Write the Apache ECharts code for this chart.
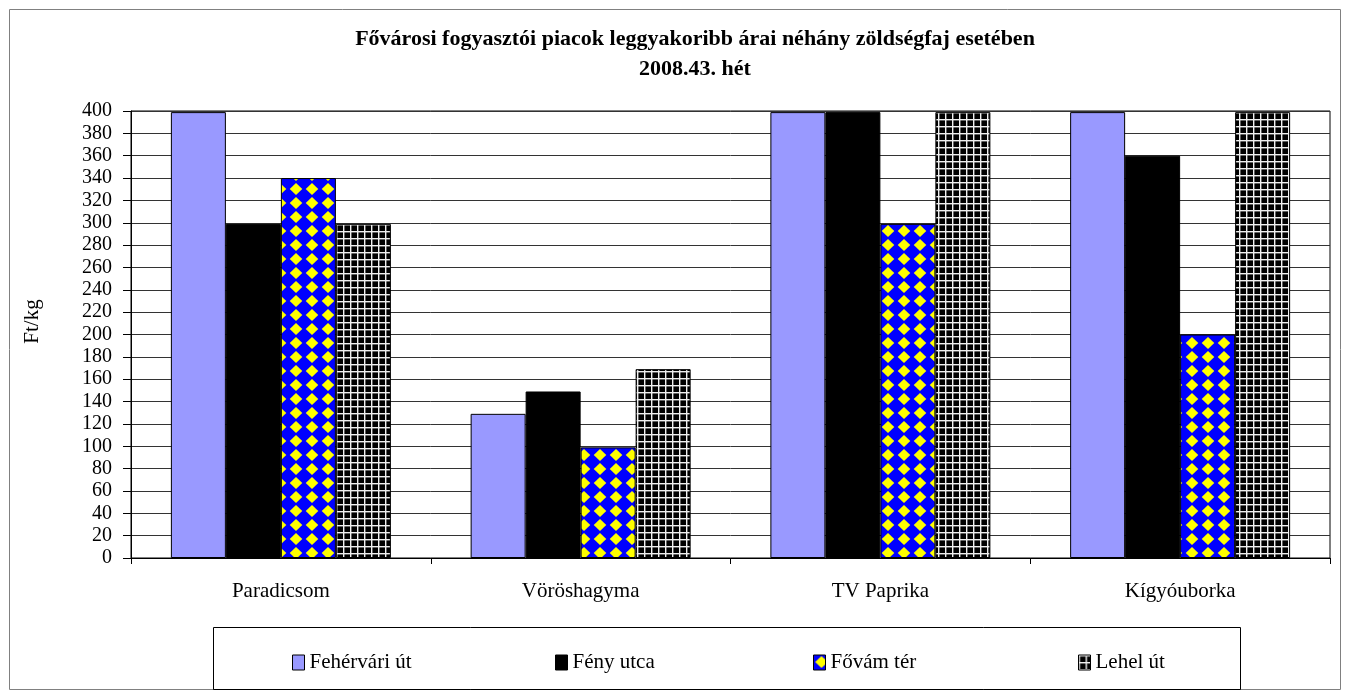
<!DOCTYPE html>
<html>
<head>
<meta charset="utf-8">
<script src="https://cdn.jsdelivr.net/npm/echarts@6/dist/echarts.min.js"></script>
<style>
html,body{margin:0;padding:0;background:#fff;}
#main{width:1350px;height:698px;}
</style>
</head>
<body>
<div id="main"></div>
<script>
var categories = ['Paradicsom', 'Vöröshagyma', 'TV Paprika', 'Kígyóuborka'];
var seriesNames = ['Fehérvári út', 'Fény utca', 'Fővám tér', 'Lehel út'];
var feherVari = [399, 129, 399, 399];
var fenyUtca = [299, 149, 399, 360];
var fovamTer = [340, 99, 299, 200];
var lehelUt = [299, 169, 399, 399];
var yTicks = [0, 400, 20];

// minta a Fővám tér oszlopokhoz (kék alap, sárga rombuszok)
function diamondPattern(){
	var c = document.createElement('canvas');
	c.width = 16; c.height = 14;
	var g = c.getContext('2d');
	g.fillStyle = '#0000ff';
	g.fillRect(0,0,16,14);
	g.fillStyle = '#ffff00';
	g.beginPath();
	g.moveTo(8,1); g.lineTo(14.3,7); g.lineTo(8,13); g.lineTo(1.7,7);
	g.closePath();
	g.fill();
	return c;
}
// rács minta a Lehel úthoz
function gridPattern(){
	var c = document.createElement('canvas');
	c.width = 7; c.height = 7;
	var g = c.getContext('2d');
	g.fillStyle = '#000';
	g.fillRect(0,0,7,7);
	g.fillStyle = '#f0f0f0';
	g.fillRect(0,0,7,1.4);
	g.fillRect(0,0,1.4,7);
	return c;
}

var colors = ['#9999ff', '#000000', {image: diamondPattern(), repeat: 'repeat'}, {image: gridPattern(), repeat: 'repeat'}];
var values = [feherVari, fenyUtca, fovamTer, lehelUt];
var font = '"Liberation Serif", "Times New Roman", serif';

var myChart = echarts.init(document.getElementById('main'));

var legendLefts = [287, 550, 808, 1073];
var legends = seriesNames.map(function(name, i){
	return {
		data: [name],
		left: legendLefts[i],
		top: 647,
		icon: 'rect',
		itemWidth: 12,
		itemHeight: 15,
		textStyle: {fontFamily: font, fontSize: 21, color: '#000'},
		itemStyle: {borderColor: '#000', borderWidth: 1}
	};
});

var option = {
	animation: false,
	textStyle: {fontFamily: font},
	title: {
		text: 'Fővárosi fogyasztói piacok leggyakoribb árai néhány zöldségfaj esetében\n2008.43. hét',
		left: 690,
		textAlign: 'center',
		top: 19,
		textStyle: {fontFamily: font, fontSize: 22, fontWeight: 'bold', color: '#000', lineHeight: 30}
	},
	legend: legends,
	graphic: [
		{type: 'rect', shape: {x: 9.5, y: 9.5, width: 1331, height: 680}, style: {fill: null, stroke: '#808080', lineWidth: 1}, silent: true},
		{type: 'rect', shape: {x: 213.5, y: 627.5, width: 1027, height: 62}, style: {fill: null, stroke: '#000', lineWidth: 1}, silent: true}
	],
	grid: {
		left: 131, right: 20, top: 111, bottom: 140,
		show: true, borderColor: '#000', borderWidth: 1, backgroundColor: 'transparent'
	},
	xAxis: {
		type: 'category',
		data: categories,
		axisLine: {lineStyle: {color: '#000'}},
		axisTick: {show: true, length: 6, lineStyle: {color: '#000'}},
		axisLabel: {fontFamily: font, fontSize: 21, color: '#000', margin: 23}
	},
	yAxis: {
		type: 'value',
		min: yTicks[0], max: yTicks[1], interval: yTicks[2],
		name: 'Ft/kg',
		nameLocation: 'middle',
		nameRotate: 90,
		nameGap: 88,
		nameTextStyle: {fontFamily: font, fontSize: 21, color: '#000', padding: [0,0,0,26]},
		axisLine: {show: true, lineStyle: {color: '#000'}},
		axisTick: {show: true, length: 8, lineStyle: {color: '#000'}},
		axisLabel: {fontFamily: font, fontSize: 20, color: '#000', margin: 19},
		splitLine: {lineStyle: {color: '#333', width: 1}}
	},
	series: seriesNames.map(function(name, i){
		return {
			name: name,
			type: 'bar',
			data: values[i],
			barWidth: 55,
			barGap: '0%',
			itemStyle: {color: colors[i], borderColor: '#000', borderWidth: 1}
		};
	})
};
myChart.setOption(option);
</script>
</body>
</html>
